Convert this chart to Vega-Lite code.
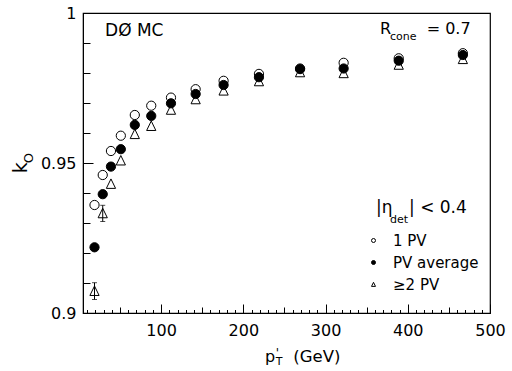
{
  "$schema": "https://vega.github.io/schema/vega-lite/v6.json",
  "width": 407,
  "height": 300,
  "autosize": {"type": "none"},
  "padding": {"left": 83, "top": 13, "right": 22, "bottom": 58},
  "background": "white",
  "config": {"view": {"stroke": "black", "strokeWidth": 1.2}, "font": "DejaVu Sans"},
  "resolve": {"axis": {"x": "independent", "y": "independent"}},
  "data": {"values": [
    {"pt": 19, "k": 0.9073, "lo": 0.9045, "hi": 0.9101, "series": "≥2 PV"},
    {"pt": 29, "k": 0.9332, "lo": 0.9305, "hi": 0.9359, "series": "≥2 PV"},
    {"pt": 39, "k": 0.943, "series": "≥2 PV"},
    {"pt": 51, "k": 0.9508, "series": "≥2 PV"},
    {"pt": 68, "k": 0.9596, "series": "≥2 PV"},
    {"pt": 88, "k": 0.9623, "series": "≥2 PV"},
    {"pt": 112, "k": 0.9677, "series": "≥2 PV"},
    {"pt": 142, "k": 0.9712, "series": "≥2 PV"},
    {"pt": 176, "k": 0.9741, "series": "≥2 PV"},
    {"pt": 219, "k": 0.9772, "series": "≥2 PV"},
    {"pt": 269, "k": 0.9802, "series": "≥2 PV"},
    {"pt": 322, "k": 0.9799, "series": "≥2 PV"},
    {"pt": 389, "k": 0.9827, "series": "≥2 PV"},
    {"pt": 467, "k": 0.9846, "series": "≥2 PV"},
    {"pt": 19, "k": 0.936, "series": "1 PV"},
    {"pt": 29, "k": 0.946, "series": "1 PV"},
    {"pt": 39, "k": 0.954, "series": "1 PV"},
    {"pt": 51, "k": 0.9591, "series": "1 PV"},
    {"pt": 68, "k": 0.966, "series": "1 PV"},
    {"pt": 88, "k": 0.9691, "series": "1 PV"},
    {"pt": 112, "k": 0.9718, "series": "1 PV"},
    {"pt": 142, "k": 0.9746, "series": "1 PV"},
    {"pt": 176, "k": 0.9774, "series": "1 PV"},
    {"pt": 219, "k": 0.9797, "series": "1 PV"},
    {"pt": 269, "k": 0.9815, "series": "1 PV"},
    {"pt": 322, "k": 0.9834, "series": "1 PV"},
    {"pt": 389, "k": 0.9849, "series": "1 PV"},
    {"pt": 467, "k": 0.9866, "series": "1 PV"},
    {"pt": 19, "k": 0.9219, "series": "PV average"},
    {"pt": 29, "k": 0.9396, "series": "PV average"},
    {"pt": 39, "k": 0.9488, "series": "PV average"},
    {"pt": 51, "k": 0.9546, "series": "PV average"},
    {"pt": 68, "k": 0.9627, "series": "PV average"},
    {"pt": 88, "k": 0.9657, "series": "PV average"},
    {"pt": 112, "k": 0.9699, "series": "PV average"},
    {"pt": 142, "k": 0.973, "series": "PV average"},
    {"pt": 176, "k": 0.976, "series": "PV average"},
    {"pt": 219, "k": 0.9786, "series": "PV average"},
    {"pt": 269, "k": 0.9813, "series": "PV average"},
    {"pt": 322, "k": 0.9815, "series": "PV average"},
    {"pt": 389, "k": 0.9841, "series": "PV average"},
    {"pt": 467, "k": 0.986, "series": "PV average"}
  ]},
  "layer": [
    {
      "mark": {"type": "point", "strokeWidth": 1, "opacity": 1, "size": 85},
      "encoding": {
        "x": {"field": "pt", "type": "quantitative", "title": null, "scale": {"domain": [5, 500], "nice": false, "zero": false},
          "axis": {"title": null, "orient": "bottom", "values": [100, 200, 300, 400, 500], "format": "d",
            "tickSize": -9, "labelPadding": 18, "labelFont": "DejaVu Sans", "labelFontSize": 16, "labelColor": "black",
            "tickColor": "black", "tickWidth": 1, "domainColor": "black", "grid": false, "labelFlush": false, "labelOverlap": false}},
        "y": {"field": "k", "type": "quantitative", "title": null, "scale": {"domain": [0.9, 1], "nice": false, "zero": false},
          "axis": {"title": null, "orient": "left", "values": [0.9, 0.95, 1],
            "labelExpr": "abs(datum.value - 1) < 0.0005 ? '1' : abs(datum.value - 0.95) < 0.0005 ? '0.95' : '0.9'",
            "tickSize": -10, "labelPadding": 17, "labelFont": "DejaVu Sans", "labelFontSize": 16, "labelColor": "black",
            "tickColor": "black", "tickWidth": 1, "domainColor": "black", "grid": false, "labelFlush": false, "labelOverlap": false}},
        "fill": {"field": "series", "type": "nominal", "scale": {"domain": ["1 PV", "PV average", "≥2 PV"], "range": ["transparent", "black", "transparent"]},
          "legend": {"title": null, "orient": "none", "legendX": 283, "legendY": 220, "symbolSize": 16, "symbolStrokeWidth": 1, "labelFont": "DejaVu Sans", "labelFontSize": 15, "labelColor": "black", "rowPadding": 6, "labelOffset": 12, "padding": 0}},
        "stroke": {"field": "series", "type": "nominal", "scale": {"domain": ["1 PV", "PV average", "≥2 PV"], "range": ["black", "black", "black"]},
          "legend": {"title": null, "orient": "none", "legendX": 283, "legendY": 220, "symbolSize": 16, "symbolStrokeWidth": 1, "labelFont": "DejaVu Sans", "labelFontSize": 15, "labelColor": "black", "rowPadding": 6, "labelOffset": 12, "padding": 0}},
        "shape": {"field": "series", "type": "nominal", "scale": {"domain": ["1 PV", "PV average", "≥2 PV"], "range": ["circle", "circle", "M0,-1.1L-1,0.95L1,0.95Z"]},
          "legend": {"title": null, "orient": "none", "legendX": 283, "legendY": 220, "symbolSize": 16, "symbolStrokeWidth": 1, "labelFont": "DejaVu Sans", "labelFontSize": 15, "labelColor": "black", "rowPadding": 6, "labelOffset": 12, "padding": 0}}
      }
    },
    {
      "transform": [{"filter": "datum.lo != null"}],
      "mark": {"type": "errorbar", "ticks": {"size": 5, "thickness": 1, "color": "black"}, "rule": {"color": "black", "strokeWidth": 1}},
      "encoding": {
        "x": {"field": "pt", "type": "quantitative", "axis": null, "scale": {"domain": [5, 500], "nice": false, "zero": false}},
        "y": {"field": "lo", "type": "quantitative", "axis": null, "scale": {"domain": [0.9, 1], "nice": false, "zero": false}},
        "y2": {"field": "hi"}
      }
    },
    {
      "data": {"values": [{}]},
      "mark": {"type": "text", "text": "DØ MC", "align": "left", "baseline": "alphabetic", "font": "DejaVu Sans", "fontSize": 17, "color": "black"},
      "encoding": {"x": {"datum": 31.8, "type": "quantitative", "scale": {"domain": [5, 500], "nice": false, "zero": false},
          "axis": {"title": null, "orient": "bottom", "values": [50, 150, 250, 350, 450], "labels": false, "domain": false, "grid": false, "tickSize": -6, "tickColor": "black", "tickWidth": 1}},
        "y": {"datum": 0.99233, "type": "quantitative", "axis": null, "scale": {"domain": [0.9, 1], "nice": false, "zero": false}}}
    },
    {
      "data": {"values": [{}]},
      "mark": {"type": "text", "text": "R", "align": "left", "baseline": "alphabetic", "font": "DejaVu Sans", "fontSize": 16, "color": "black"},
      "encoding": {"x": {"datum": 366.2, "type": "quantitative", "scale": {"domain": [5, 500], "nice": false, "zero": false},
          "axis": {"title": null, "orient": "bottom", "values": [10,20,30,40,60,70,80,90,110,120,130,140,160,170,180,190,210,220,230,240,260,270,280,290,310,320,330,340,360,370,380,390,410,420,430,440,460,470,480,490], "labels": false, "domain": false, "grid": false, "tickSize": -3.5, "tickColor": "black", "tickWidth": 1}},
        "y": {"datum": 0.9929, "type": "quantitative", "scale": {"domain": [0.9, 1], "nice": false, "zero": false},
          "axis": {"title": null, "orient": "left", "values": [0.91, 0.92, 0.93, 0.94, 0.96, 0.97, 0.98, 0.99], "labels": false, "domain": false, "grid": false, "tickSize": -7, "tickColor": "black", "tickWidth": 1}}}
    },
    {
      "data": {"values": [{}]},
      "mark": {"type": "text", "text": "cone", "align": "left", "baseline": "alphabetic", "font": "DejaVu Sans", "fontSize": 11, "color": "black"},
      "encoding": {"x": {"datum": 378.4, "type": "quantitative", "axis": null, "scale": {"domain": [5, 500], "nice": false, "zero": false}},
        "y": {"datum": 0.991, "type": "quantitative", "axis": null, "scale": {"domain": [0.9, 1], "nice": false, "zero": false}}}
    },
    {
      "data": {"values": [{}]},
      "mark": {"type": "text", "text": "= 0.7", "align": "left", "baseline": "alphabetic", "font": "DejaVu Sans", "fontSize": 16, "color": "black"},
      "encoding": {"x": {"datum": 423, "type": "quantitative", "axis": null, "scale": {"domain": [5, 500], "nice": false, "zero": false}},
        "y": {"datum": 0.9929, "type": "quantitative", "axis": null, "scale": {"domain": [0.9, 1], "nice": false, "zero": false}}}
    },
    {
      "data": {"values": [{}]},
      "mark": {"type": "text", "text": "|η", "align": "left", "baseline": "alphabetic", "font": "DejaVu Sans", "fontSize": 17, "color": "black"},
      "encoding": {"x": {"datum": 361.4, "type": "quantitative", "axis": null, "scale": {"domain": [5, 500], "nice": false, "zero": false}},
        "y": {"datum": 0.93323, "type": "quantitative", "axis": null, "scale": {"domain": [0.9, 1], "nice": false, "zero": false}}}
    },
    {
      "data": {"values": [{}]},
      "mark": {"type": "text", "text": "det", "align": "left", "baseline": "alphabetic", "font": "DejaVu Sans", "fontSize": 11, "color": "black"},
      "encoding": {"x": {"datum": 378.4, "type": "quantitative", "axis": null, "scale": {"domain": [5, 500], "nice": false, "zero": false}},
        "y": {"datum": 0.9299, "type": "quantitative", "axis": null, "scale": {"domain": [0.9, 1], "nice": false, "zero": false}}}
    },
    {
      "data": {"values": [{}]},
      "mark": {"type": "text", "text": "| < 0.4", "align": "left", "baseline": "alphabetic", "font": "DejaVu Sans", "fontSize": 17, "color": "black"},
      "encoding": {"x": {"datum": 401.5, "type": "quantitative", "axis": null, "scale": {"domain": [5, 500], "nice": false, "zero": false}},
        "y": {"datum": 0.93323, "type": "quantitative", "axis": null, "scale": {"domain": [0.9, 1], "nice": false, "zero": false}}}
    },
    {
      "data": {"values": [{}]},
      "mark": {"type": "text", "text": "k", "align": "left", "baseline": "alphabetic", "angle": 270, "font": "DejaVu Sans", "fontSize": 19, "color": "black"},
      "encoding": {"x": {"datum": -62.7, "type": "quantitative", "axis": null, "scale": {"domain": [5, 500], "nice": false, "zero": false}},
        "y": {"datum": 0.94657, "type": "quantitative", "axis": null, "scale": {"domain": [0.9, 1], "nice": false, "zero": false}}}
    },
    {
      "data": {"values": [{}]},
      "mark": {"type": "text", "text": "O", "align": "left", "baseline": "alphabetic", "angle": 270, "font": "DejaVu Sans", "fontSize": 13, "color": "black"},
      "encoding": {"x": {"datum": -56.2, "type": "quantitative", "axis": null, "scale": {"domain": [5, 500], "nice": false, "zero": false}},
        "y": {"datum": 0.9499, "type": "quantitative", "axis": null, "scale": {"domain": [0.9, 1], "nice": false, "zero": false}}}
    },
    {
      "data": {"values": [{}]},
      "mark": {"type": "text", "text": "p", "align": "left", "baseline": "alphabetic", "font": "DejaVu Sans", "fontSize": 16, "color": "black"},
      "encoding": {"x": {"datum": 226.3, "type": "quantitative", "axis": null, "scale": {"domain": [5, 500], "nice": false, "zero": false}},
        "y": {"datum": 0.88377, "type": "quantitative", "axis": null, "scale": {"domain": [0.9, 1], "nice": false, "zero": false}}}
    },
    {
      "data": {"values": [{}]},
      "mark": {"type": "text", "text": "'", "align": "left", "baseline": "alphabetic", "font": "DejaVu Sans", "fontSize": 12, "color": "black"},
      "encoding": {"x": {"datum": 239.3, "type": "quantitative", "axis": null, "scale": {"domain": [5, 500], "nice": false, "zero": false}},
        "y": {"datum": 0.8855, "type": "quantitative", "axis": null, "scale": {"domain": [0.9, 1], "nice": false, "zero": false}}}
    },
    {
      "data": {"values": [{}]},
      "mark": {"type": "text", "text": "T", "align": "left", "baseline": "alphabetic", "font": "DejaVu Sans", "fontSize": 11, "color": "black"},
      "encoding": {"x": {"datum": 239.3, "type": "quantitative", "axis": null, "scale": {"domain": [5, 500], "nice": false, "zero": false}},
        "y": {"datum": 0.88267, "type": "quantitative", "axis": null, "scale": {"domain": [0.9, 1], "nice": false, "zero": false}}}
    },
    {
      "data": {"values": [{}]},
      "mark": {"type": "text", "text": "(GeV)", "align": "left", "baseline": "alphabetic", "font": "DejaVu Sans", "fontSize": 16.5, "color": "black"},
      "encoding": {"x": {"datum": 260.8, "type": "quantitative", "axis": null, "scale": {"domain": [5, 500], "nice": false, "zero": false}},
        "y": {"datum": 0.88377, "type": "quantitative", "axis": null, "scale": {"domain": [0.9, 1], "nice": false, "zero": false}}}
    }
  ]
}
